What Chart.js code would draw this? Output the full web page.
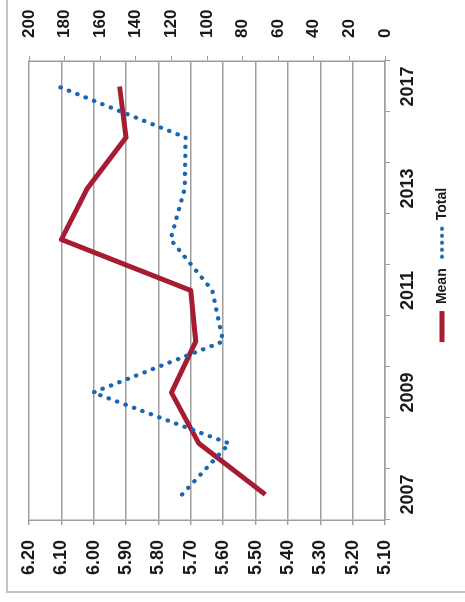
<!DOCTYPE html>
<html>
<head>
<meta charset="utf-8">
<script src="https://cdn.jsdelivr.net/npm/chart.js@4/dist/chart.umd.min.js"></script>
<style>
	body { margin: 0; background: #fff; width: 465px; height: 602px; overflow: hidden; position: relative; }
	#frame { position: absolute; left: 6px; top: -4px; width: 470px; height: 595px; border-left: 2px solid #c4c4c4; border-bottom: 2px solid #c4c4c4; }
	/* chart is drawn upright, then turned a quarter to the left like the scan */
	#wrap { position: absolute; left: 0; top: 0; width: 602px; height: 465px; transform-origin: 0 0; transform: translateY(602px) rotate(-90deg); }
</style>
</head>
<body>
<div id="frame"></div>
<div id="wrap"><canvas id="meanChart" width="602" height="465"></canvas></div>

<script type="text/javascript">

var years = ["2007", "2008", "2009", "2010", "2011", "2012", "2013", "2015", "2017"];
var meanValues = [5.47, 5.675, 5.76, 5.685, 5.70, 6.10, 6.02, 5.90, 5.92];
var totalValues = [114, 87.5, 164, 91, 97, 120.5, 112.5, 112, 183.5];
var meanTicks = { min: 5.10, max: 6.20, step: 0.10 };
var totalTicks = { min: 0, max: 200, step: 20 };

var red = '#a51c33';
var blue = '#1768b0';
var gridGray = '#9e9e9e';
var font = { family: "'Liberation Sans', Arial, sans-serif", size: 18, weight: 'bold' };

// small dotted marker for the Total legend entry
var dots = document.createElement('canvas');
dots.width = 34;
dots.height = 6;
var dctx = dots.getContext('2d');
dctx.fillStyle = blue;
for (i = 0; i < 5; i++) {
	dctx.beginPath();
	dctx.arc(3 + i * 7, 3, 2.1, 0, Math.PI * 2);
	dctx.fill();
}

// move the legend a bit to the right, as in the picture
var legendShift = {
	id: 'legendShift',
	afterLayout: function(chart) {
		chart.legend.left += 36;
		chart.legend.right += 36;
	}
};

var ctx = document.getElementById("meanChart").getContext('2d');
var myChart = new Chart(ctx, {
	type: 'line',
	data: {
		labels: years,
		datasets: [{
			label: 'Mean',
			data: meanValues,
			yAxisID: 'y',
			borderColor: red,
			backgroundColor: red,
			borderWidth: 5,
			borderCapStyle: 'butt',
			borderJoinStyle: 'round',
			pointRadius: 0,
			pointStyle: 'line',
			order: 1
		}, {
			label: 'Total',
			data: totalValues,
			yAxisID: 'y1',
			borderColor: blue,
			backgroundColor: blue,
			borderWidth: 4.3,
			borderDash: [0.3, 8.7],
			borderCapStyle: 'round',
			pointRadius: 0,
			pointStyle: dots,
			order: 0
		}]
	},
	options: {
		responsive: false,
		animation: false,
		events: [],
		layout: { padding: { left: 8, right: 8, top: 29, bottom: 6 } },
		plugins: {
			tooltip: { enabled: false },
			legend: {
				position: 'bottom',
				labels: {
					usePointStyle: true,
					pointStyleWidth: 31,
					padding: 10,
					color: '#1a1a1a',
					font: { family: font.family, size: 14, weight: 'bold' },
					sort: function(a, b) { return a.datasetIndex - b.datasetIndex; }
				}
			}
		},
		scales: {
			x: {
				offset: true,
				grid: { drawOnChartArea: false, offset: true, tickLength: 5, color: gridGray },
				border: { color: gridGray, width: 1.5 },
				ticks: {
					autoSkip: false,
					maxRotation: 0,
					padding: 7,
					color: '#1a1a1a',
					font: font,
					callback: function(v, i) { return i % 2 == 0 ? this.getLabelForValue(v) : ''; }
				},
				afterFit: function(s) { s.height = 40; }
			},
			y: {
				position: 'left',
				min: meanTicks.min,
				max: meanTicks.max,
				grid: { color: gridGray, lineWidth: 1.4, tickLength: 5 },
				border: { color: gridGray, width: 1.5 },
				ticks: {
					stepSize: meanTicks.step,
					padding: 15,
					color: '#1a1a1a',
					font: font,
					callback: function(v) { return v.toFixed(2); }
				},
				afterFit: function(s) { s.width = 74; }
			},
			y1: {
				position: 'right',
				min: totalTicks.min,
				max: totalTicks.max,
				grid: { drawOnChartArea: false, tickLength: 5, color: gridGray },
				border: { color: gridGray, width: 1.5 },
				ticks: {
					stepSize: totalTicks.step,
					padding: 18,
					color: '#1a1a1a',
					font: { family: font.family, size: 17, weight: 'bold' }
				},
				afterFit: function(s) { s.width = 53; }
			}
		}
	},
	plugins: [legendShift]
});
</script>
</body>
</html>
